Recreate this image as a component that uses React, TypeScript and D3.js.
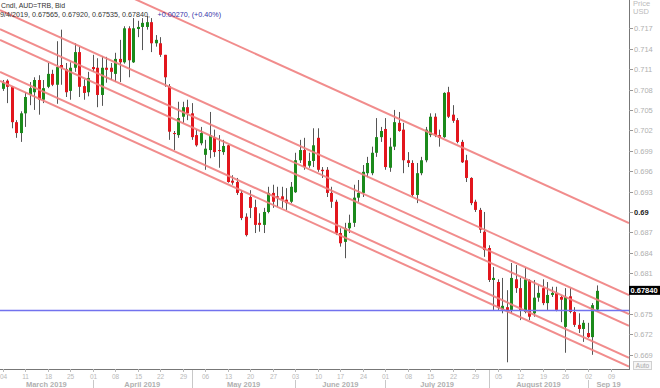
import React from "react";
import * as d3 from "d3";

// daily AUD candles, Mar 4 2019 .. Sep 4 2019 (one per weekday)
const opens = [0.7081, 0.7093, 0.7084, 0.7032, 0.7016, 0.7045, 0.7072, 0.7076, 0.7094, 0.7065,
  0.7084, 0.7103, 0.7087, 0.7116, 0.7110, 0.7078, 0.7112, 0.7135, 0.7085, 0.7076,
  0.7113, 0.7112, 0.7072, 0.7112, 0.7112, 0.7103, 0.7125, 0.7120, 0.7170, 0.7120,
  0.7169, 0.7172, 0.7172, 0.7179, 0.7148, 0.7148, 0.7131, 0.7085, 0.7016, 0.7013,
  0.7040, 0.7054, 0.7045, 0.7013, 0.7001, 0.6984, 0.6991, 0.7010, 0.6991, 0.6988,
  0.6998, 0.6946, 0.6944, 0.6928, 0.6893, 0.6922, 0.6907, 0.6884, 0.6881, 0.6900,
  0.6928, 0.6923, 0.6923, 0.6918, 0.6915, 0.6929, 0.6976, 0.6991, 0.6968, 0.6975,
  0.7009, 0.6962, 0.6962, 0.6928, 0.6915, 0.6869, 0.6856, 0.6876, 0.6884, 0.6921,
  0.6928, 0.6957, 0.6957, 0.6987, 0.7010, 0.7022, 0.6965, 0.6996, 0.7031, 0.7021,
  0.6976, 0.6972, 0.6925, 0.6957, 0.6976, 0.7013, 0.7040, 0.7013, 0.7010, 0.7076,
  0.7043, 0.7035, 0.7003, 0.6976, 0.6950, 0.6915, 0.6903, 0.6871, 0.6847, 0.6800,
  0.6797, 0.6757, 0.6760, 0.6756, 0.6801, 0.6788, 0.6753, 0.6800, 0.6751, 0.6774,
  0.6788, 0.6766, 0.6778, 0.6781, 0.6775, 0.6731, 0.6776, 0.6753, 0.6734, 0.6728,
  0.6722, 0.6716, 0.67565];
const highs = [0.7094, 0.7095, 0.7085, 0.7035, 0.7048, 0.7076, 0.7091, 0.7098, 0.7101, 0.7094,
  0.7119, 0.7109, 0.7151, 0.7168, 0.7119, 0.7120, 0.7148, 0.7143, 0.7095, 0.7106,
  0.7131, 0.7126, 0.7129, 0.7128, 0.7119, 0.7134, 0.7153, 0.7173, 0.7173, 0.7185,
  0.7181, 0.7185, 0.7188, 0.7185, 0.7160, 0.7157, 0.7131, 0.7088, 0.7019, 0.7062,
  0.7062, 0.7065, 0.7060, 0.7021, 0.7025, 0.7006, 0.7047, 0.7021, 0.7013, 0.7006,
  0.6999, 0.6954, 0.6950, 0.6932, 0.6898, 0.6932, 0.6918, 0.6898, 0.6906, 0.6937,
  0.6940, 0.6937, 0.6937, 0.6935, 0.6944, 0.6987, 0.7006, 0.7009, 0.6987, 0.7023,
  0.7023, 0.6966, 0.6966, 0.6937, 0.6918, 0.6876, 0.6884, 0.6896, 0.6940, 0.6947,
  0.6969, 0.6981, 0.6996, 0.7038, 0.7025, 0.7038, 0.7009, 0.7050, 0.7047, 0.7031,
  0.6988, 0.6976, 0.6972, 0.6981, 0.7025, 0.7045, 0.7045, 0.7021, 0.7076, 0.7084,
  0.7057, 0.7038, 0.7006, 0.6984, 0.6951, 0.6918, 0.6906, 0.6900, 0.6851, 0.6819,
  0.6801, 0.6803, 0.6785, 0.6825, 0.6822, 0.6803, 0.6818, 0.6801, 0.6800, 0.6793,
  0.6801, 0.6797, 0.6790, 0.6790, 0.6777, 0.6788, 0.6788, 0.6760, 0.6751, 0.6741,
  0.6737, 0.6766, 0.67920];
const lows = [0.7078, 0.7060, 0.7023, 0.7009, 0.7003, 0.7025, 0.7057, 0.7050, 0.7043, 0.7060,
  0.7082, 0.7085, 0.7059, 0.7087, 0.7069, 0.7065, 0.7106, 0.7069, 0.7065, 0.7070,
  0.7106, 0.7054, 0.7056, 0.7090, 0.7094, 0.7091, 0.7091, 0.7118, 0.7098, 0.7119,
  0.7157, 0.7138, 0.7168, 0.7135, 0.7143, 0.7128, 0.7084, 0.7006, 0.6991, 0.7009,
  0.7031, 0.7035, 0.7006, 0.6996, 0.6998, 0.6962, 0.6979, 0.6981, 0.6965, 0.6984,
  0.6943, 0.6940, 0.6925, 0.6888, 0.6864, 0.6891, 0.6869, 0.6871, 0.6869, 0.6898,
  0.6906, 0.6907, 0.6906, 0.6903, 0.6913, 0.6928, 0.6972, 0.6962, 0.6965, 0.6966,
  0.6959, 0.6950, 0.6922, 0.6906, 0.6866, 0.6849, 0.6832, 0.6869, 0.6878, 0.6915,
  0.6922, 0.6951, 0.6954, 0.6981, 0.7003, 0.6962, 0.6959, 0.6991, 0.7018, 0.6957,
  0.6966, 0.6922, 0.6913, 0.6954, 0.6973, 0.7010, 0.7010, 0.6996, 0.7009, 0.7038,
  0.7031, 0.7001, 0.6972, 0.6944, 0.6910, 0.6900, 0.6869, 0.6834, 0.6797, 0.6756,
  0.6756, 0.6751, 0.6679, 0.6751, 0.6781, 0.6741, 0.6751, 0.6741, 0.6746, 0.6768,
  0.6763, 0.6756, 0.6775, 0.6754, 0.6738, 0.6693, 0.6751, 0.6731, 0.6722, 0.6709,
  0.6715, 0.6690, 0.67535];
const closes = [0.7090, 0.7084, 0.7032, 0.7016, 0.7045, 0.7069, 0.7082, 0.7094, 0.7065, 0.7082,
  0.7103, 0.7087, 0.7113, 0.7112, 0.7076, 0.7112, 0.7135, 0.7084, 0.7075, 0.7097,
  0.7110, 0.7072, 0.7112, 0.7109, 0.7106, 0.7125, 0.7120, 0.7170, 0.7123, 0.7170,
  0.7172, 0.7178, 0.7179, 0.7148, 0.7153, 0.7131, 0.7098, 0.7018, 0.7015, 0.7038,
  0.7054, 0.7045, 0.7010, 0.6998, 0.7016, 0.6993, 0.7013, 0.6988, 0.6990, 0.6997,
  0.6944, 0.6943, 0.6928, 0.6891, 0.6866, 0.6906, 0.6881, 0.6881, 0.6900, 0.6928,
  0.6915, 0.6921, 0.6918, 0.6913, 0.6937, 0.6976, 0.6991, 0.6966, 0.6975, 0.6998,
  0.6962, 0.6960, 0.6928, 0.6915, 0.6869, 0.6854, 0.6876, 0.6884, 0.6921, 0.6928,
  0.6959, 0.6972, 0.6987, 0.7010, 0.7019, 0.6966, 0.6996, 0.7032, 0.7019, 0.6976,
  0.6972, 0.6925, 0.6957, 0.6976, 0.7021, 0.7040, 0.7013, 0.7009, 0.7075, 0.7040,
  0.7034, 0.7003, 0.6973, 0.6950, 0.6913, 0.6903, 0.6874, 0.6844, 0.6800, 0.6803,
  0.6759, 0.6762, 0.6756, 0.6803, 0.6788, 0.6756, 0.6801, 0.6746, 0.6774, 0.6781,
  0.6766, 0.6778, 0.6781, 0.6756, 0.6771, 0.6775, 0.6753, 0.6734, 0.6728, 0.6737,
  0.6716, 0.6763, 0.67840];

// drawn lines: value on Mar 4 and on Sep 4
const channelStart = [0.7301, 0.7195, 0.7167, 0.7151, 0.7104, 0.7091];
const channelEnd = [0.6905, 0.6799, 0.6771, 0.6754, 0.6707, 0.6694];
const levelLine = 0.6755;

const priceTicks = [0.669, 0.672, 0.675, 0.678, 0.681, 0.684, 0.687, 0.690, 0.693, 0.696,
  0.699, 0.702, 0.705, 0.708, 0.711, 0.714, 0.717];
const monthLabels = ["March 2019", "April 2019", "May 2019", "June 2019", "July 2019", "August 2019", "Sep 19"];
const lastPrice = 0.6784;

const W = 660;
const H = 388;
const plotR = 629;
const plotB = 369;
const font = "'Liberation Sans', Arial, sans-serif";

// weekday calendar starting Mar 4 2019
const days: Date[] = [];
{
  const d = new Date(2019, 2, 4);
  while (days.length < 137) {
    if (d.getDay() !== 0 && d.getDay() !== 6) days.push(new Date(d));
    d.setDate(d.getDate() + 1);
  }
}

export default function App() {
  const x = d3.scaleLinear().domain([0, 132]).range([2.7, 597]);
  const y = d3.scaleLinear().domain([0.669, 0.717]).range([354.8, 28.3]);

  const i0 = x.invert(0);
  const i1 = x.invert(plotR);
  const lineAt = (k: number, i: number) =>
    channelStart[k] + (channelEnd[k] - channelStart[k]) * (i / 132);

  const fmt = (v: number) => v.toFixed(3).replace(/0+$/, "");

  const mondays = days
    .map((d, i) => ({ d, i }))
    .filter(({ d, i }) => d.getDay() === 1 && x(i) <= plotR);
  const monthStarts = days
    .map((d, i) => ({ d, i }))
    .filter(({ d, i }) => i > 0 && d.getMonth() !== days[i - 1].getMonth() && x(i) <= plotR);
  const bounds = [0, ...monthStarts.map((m) => x(m.i)), plotR];

  // the last-price box hides the tick behind it
  const shownTicks = priceTicks.filter((t) => Math.abs(y(t) - y(lastPrice)) > 6);

  return (
    <svg width={W} height={H} style={{ position: "absolute", left: 0, top: 0, background: "#fff" }}>
      <defs>
        <clipPath id="plot">
          <rect x={0} y={0} width={plotR} height={plotB} />
        </clipPath>
      </defs>

      <g clipPath="url(#plot)">
        {opens.map((o, i) => {
          const c = closes[i];
          const up = c >= o;
          const cx = Math.round(x(i));
          const top = y(Math.max(o, c));
          const bot = y(Math.min(o, c));
          return (
            <g key={i}>
              <line x1={cx + 0.5} x2={cx + 0.5} y1={y(highs[i])} y2={y(lows[i])} stroke="#555" strokeWidth={1} />
              <rect x={cx - 1} y={top} width={3} height={Math.max(1, bot - top)} fill={up ? "#1b8a1b" : "#e2161d"} />
            </g>
          );
        })}

        {channelStart.map((_, k) => (
          <line key={k} x1={x(i0)} x2={x(i1)} y1={y(lineAt(k, i0))} y2={y(lineAt(k, i1))}
            stroke="#ef8080" strokeWidth={2} strokeOpacity={0.9} />
        ))}
        <line x1={0} x2={plotR} y1={y(levelLine)} y2={y(levelLine)} stroke="#7272ee" strokeWidth={1.5} />
      </g>

      {/* header */}
      <text x={1} y={7.5} fontFamily={font} fontSize={7.5} fill="#333" textLength={64} lengthAdjust="spacingAndGlyphs">
        Cndl, AUD=TRB, Bid
      </text>
      <text x={0} y={16.5} fontFamily={font} fontSize={7.2} fill="#333">
        9/4/2019, 0.67565, 0.67920, 0.67535, 0.67840,
      </text>
      <text x={157.5} y={16.5} fontFamily={font} fontSize={7.2} fill="#3535a8">
        +0.00270, (+0.40%)
      </text>

      {/* right axis */}
      <line x1={plotR + 0.5} x2={plotR + 0.5} y1={0} y2={plotB + 1} stroke="#777" />
      <text x={633} y={5.5} fontFamily={font} fontSize={7.5} fill="#bbb">Price</text>
      <text x={633} y={14} fontFamily={font} fontSize={7.5} fill="#bbb">USD</text>
      {shownTicks.map((t) => {
        const major = Math.abs(t * 100 - Math.round(t * 100)) < 1e-6;
        return (
          <g key={t} transform={`translate(0,${Math.round(y(t)) + 0.5})`}>
            <line x1={plotR} x2={plotR + 4} stroke="#999" />
            <text x={634} dy="0.35em" fontFamily={font} fontSize={7.5}
              fill={major ? "#222" : "#b0b0b0"} fontWeight={major ? "bold" : "normal"}>
              {fmt(t)}
            </text>
          </g>
        );
      })}
      <rect x={plotR} y={y(lastPrice) - 5} width={W - plotR} height={9} fill="#000" />
      <text x={630.5} y={y(lastPrice)} dy="0.33em" fontFamily={font} fontSize={7.5} fontWeight="bold" fill="#fff">
        {lastPrice.toFixed(5)}
      </text>
      <rect x={633.5} y={361.5} width={18} height={8} fill="#f6f6f6" stroke="#d0d0d0" />
      <text x={642.5} y={368} textAnchor="middle" fontFamily={font} fontSize={6.5} fill="#aaa">Auto</text>

      {/* bottom axis */}
      <line x1={0} x2={plotR + 1} y1={plotB + 0.5} y2={plotB + 0.5} stroke="#777" />
      {mondays.map(({ d, i }) => (
        <g key={i} transform={`translate(${Math.round(x(i)) + 0.5},0)`}>
          <line y1={plotB} y2={plotB + 3} stroke="#bbb" />
          <text y={379} textAnchor="middle" fontFamily={font} fontSize={6.5} fill="#b8b8b8">
            {String(d.getDate()).padStart(2, "0")}
          </text>
        </g>
      ))}
      {monthStarts.map(({ d, i }) => (
        <line key={i} x1={Math.round(x(i)) + 0.5} x2={Math.round(x(i)) + 0.5}
          y1={d.getDay() === 1 ? 380 : plotB + 1} y2={H} stroke="#c8c8c8" />
      ))}
      {monthLabels.map((m, k) => (
        <text key={m} x={(bounds[k] + bounds[k + 1]) / 2} y={387} textAnchor="middle"
          fontFamily={font} fontSize={7.5} fontWeight="bold" fill="#b0b0b0">
          {m}
        </text>
      ))}
    </svg>
  );
}
